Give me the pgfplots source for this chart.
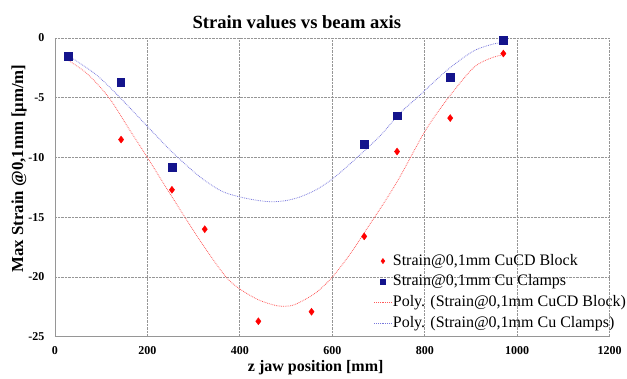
\documentclass[border=0pt]{standalone}
\usepackage{pgfplots}
\pgfplotsset{compat=1.18}
\usepackage{fontspec}
\setmainfont{Liberation Serif}
\definecolor{redpt}{RGB}{255,0,0}
\definecolor{bluept}{RGB}{20,20,140}
\definecolor{redtr}{RGB}{255,90,90}
\definecolor{bluetr}{RGB}{120,120,220}
\definecolor{gridc}{RGB}{150,150,150}
\begin{document}
\begin{tikzpicture}[x=1pt,y=1pt]
\path (-55,-41) rectangle (572,337);
\begin{axis}[
  scale only axis, width=555pt, height=299pt,
  at={(0,0)}, anchor=south west,
  xmin=0, xmax=1200, ymin=-25, ymax=0,
  xtick={0,200,...,1200}, ytick={-25,-20,...,0},
  axis x line*=bottom, axis y line*=left,
  axis line style={gridc, line width=0.8pt, -},
  major tick length=0pt,
  grid=major,
  major grid style={gridc, densely dotted, line width=0.8pt},
  /pgf/number format/assume math mode=true,
  /pgf/number format/1000 sep={},
  tick label style={font=\fontsize{12}{14}\selectfont\bfseries},
  xticklabel style={yshift=-6pt},
  yticklabel style={xshift=-7pt},
  title={\fontsize{18.6}{22}\selectfont\bfseries Strain values vs beam axis},
  title style={at={(0.436,1)}, anchor=south, yshift=0pt},
  xlabel={\fontsize{16}{18}\selectfont\bfseries z jaw position [mm]},
  ylabel={\fontsize{16.8}{18}\selectfont\bfseries Max Strain @0,1mm [μm/m]},
  xlabel style={at={(ticklabel cs:0.470)}, yshift=1pt},
  ylabel style={at={(ticklabel cs:0.5635)}, yshift=-5pt},
  legend style={at={(319pt,84pt)}, anchor=north west, draw=none, fill=none,
    font=\fontsize{16}{18}\selectfont, row sep=4.9pt, inner sep=0pt,
    nodes={inner sep=1pt, text height=11pt, text depth=3pt},
    legend cell align=left},
  legend image post style={mark size=2.6pt},
]
\addplot[only marks, mark=diamond*, mark size=3.5pt, color=redpt, mark options={fill=redpt}]
  coordinates {(28,-1.6) (143,-8.5) (253,-12.7) (324,-16.0) (440,-23.7) (555,-22.9) (669,-16.6) (740,-9.5) (855,-6.7) (970,-1.3)};
\addlegendentry{Strain@0,1mm CuCD Block}
\addplot[only marks, mark=square*, mark size=3.8pt, color=bluept, mark options={fill=bluept}]
  coordinates {(28,-1.5) (142,-3.7) (253,-10.8) (669,-8.9) (740,-6.5) (855,-3.3) (970,-0.2)};
\addlegendentry{Strain@0,1mm Cu Clamps}
\addplot[redtr, densely dotted, line width=0.8pt, smooth, no marks]
  coordinates {(30,-1.9) (70,-3.0) (117,-5.0) (160,-7.6) (200,-10.0) (250,-13.1) (313,-16.9) (368,-19.9) (400,-21.0) (440,-21.9) (480,-22.4) (510,-22.4) (530,-22.1) (565,-21.3) (600,-20.0) (640,-18.0) (674,-16.0) (710,-13.9) (745,-11.7) (802,-7.7) (851,-5.0) (905,-2.5) (942,-1.7) (970,-1.4)};
\addlegendentry{Poly. (Strain@0,1mm CuCD Block)}
\addplot[bluetr, densely dotted, line width=0.8pt, smooth, no marks]
  coordinates {(30,-1.5) (90,-3.1) (141,-5.0) (200,-7.4) (255,-9.6) (313,-11.6) (360,-12.8) (400,-13.3) (440,-13.6) (470,-13.7) (500,-13.6) (530,-13.3) (565,-12.7) (600,-11.8) (645,-10.3) (703,-8.2) (746,-6.3) (786,-4.9) (848,-2.7) (905,-1.1) (949,-0.5) (970,-0.4)};
\addlegendentry{Poly. (Strain@0,1mm Cu Clamps)}
\end{axis}
\end{tikzpicture}
\end{document}
